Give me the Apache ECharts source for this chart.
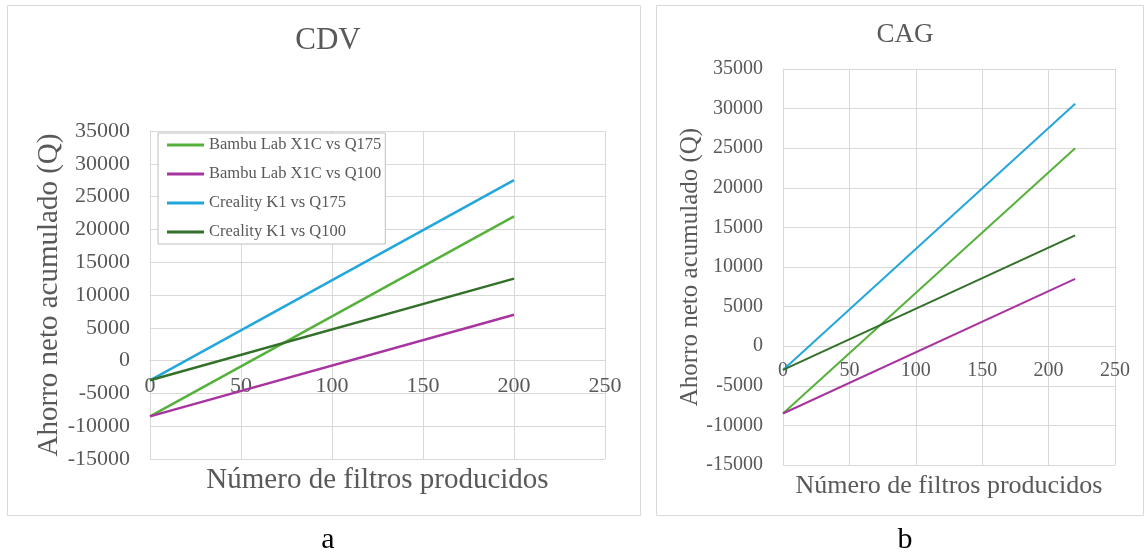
<!DOCTYPE html>
<html><head><meta charset="utf-8">
<script src="https://cdn.jsdelivr.net/npm/echarts@6/dist/echarts.min.js"></script>
<style>html,body{margin:0;padding:0;background:#fff}#c{width:1148px;height:556px}</style>
</head><body><div id="c"></div>
<script>
const seriesNames = ['Bambu Lab X1C vs Q175','Bambu Lab X1C vs Q100','Creality K1 vs Q175','Creality K1 vs Q100'];
const colors = ['#56B13C','#A8349F','#22A6DC','#33702A'];
// CDV (a): x = number of filters, y = accumulated net savings (Q)
const cdvX = [0, 200];
const cdvBambuQ175 = [-8500, 22000];
const cdvBambuQ100 = [-8500, 7000];
const cdvCrealityQ175 = [-3000, 27500];
const cdvCrealityQ100 = [-3000, 12500];
// CAG (b)
const cagX = [0, 220];
const cagBambuQ175 = [-8500, 25000];
const cagBambuQ100 = [-8500, 8500];
const cagCrealityQ175 = [-3000, 30600];
const cagCrealityQ100 = [-3000, 14000];
const xTicks = [0, 50, 100, 150, 200, 250];
const yTicks = [-15000, -10000, -5000, 0, 5000, 10000, 15000, 20000, 25000, 30000, 35000];

const F = 'Liberation Serif';
const TC = '#595959';
const GL = '#d9d9d9';
const pair = (xs, ys) => xs.map((x, i) => [x, ys[i]]);
const fmt = v => String(v);
const yMin = yTicks[0], yMax = yTicks[yTicks.length - 1];
const grids = [
  {left:150, top:131, width:455, height:328},
  {left:783, top:69, width:332, height:396}
];
// x axis crosses the y axis at 0 (offset from grid bottom)
const zeroOffset = g => -((0 - yMin) / (yMax - yMin)) * g.height;

function xAx(gi, fs, nfs, gap) {
  return { type:'value', gridIndex:gi, position:'bottom', offset:zeroOffset(grids[gi]),
    min:xTicks[0], max:xTicks[xTicks.length-1], interval:50,
    name:'Número de filtros producidos', nameLocation:'middle', nameGap:gap,
    nameTextStyle:{fontFamily:F, fontSize:nfs, color:TC},
    axisLine:{show:true, onZero:false, lineStyle:{color:GL, width:1}}, axisTick:{show:false},
    axisLabel:{fontFamily:F, fontSize:fs, color:TC, margin:15, formatter:fmt},
    splitLine:{show:true, lineStyle:{color:GL, width:1}} };
}
function yAx(gi, fs, nfs, gap) {
  return { type:'value', gridIndex:gi, min:yMin, max:yMax, interval:5000,
    name:'Ahorro neto acumulado (Q)', nameLocation:'middle', nameGap:gap,
    nameTextStyle:{fontFamily:F, fontSize:nfs, color:TC},
    axisLine:{show:true, onZero:false, lineStyle:{color:GL, width:1}}, axisTick:{show:false},
    axisLabel:{fontFamily:F, fontSize:fs, color:TC, margin:20, formatter:fmt},
    splitLine:{show:true, lineStyle:{color:GL, width:1}} };
}
function mk(name, data, gi, ci, w) {
  return { type:'line', name:name, xAxisIndex:gi, yAxisIndex:gi, data:data, symbol:'none',
    lineStyle:{color:colors[ci], width:w}, itemStyle:{color:colors[ci]}, animation:false };
}

const option = {
  animation:false,
  title:[
    {text:'CDV', left:323, top:20, textAlign:'center', textStyle:{fontFamily:F, fontSize:31, fontWeight:'normal', color:TC}},
    {text:'CAG', left:900, top:16, textAlign:'center', textStyle:{fontFamily:F, fontSize:27, fontWeight:'normal', color:TC}},
    {text:'a', left:323, top:520, textAlign:'center', textStyle:{fontFamily:F, fontSize:30, fontWeight:'normal', color:'#000'}},
    {text:'b', left:900, top:520, textAlign:'center', textStyle:{fontFamily:F, fontSize:30, fontWeight:'normal', color:'#000'}}
  ],
  graphic:[
    {type:'rect', shape:{x:7.5, y:5.5, width:633, height:510}, style:{fill:'none', stroke:'#d9d9d9', lineWidth:1}, silent:true},
    {type:'rect', shape:{x:656.5, y:5.5, width:487, height:510}, style:{fill:'none', stroke:'#d9d9d9', lineWidth:1}, silent:true}
  ],
  legend:{ data:seriesNames, orient:'vertical', left:158, top:133, icon:'rect', itemWidth:37, itemHeight:3, itemGap:11,
    padding:[3,4,3,9], borderColor:'#bfbfbf', borderWidth:1, backgroundColor:'#fff',
    textStyle:{fontFamily:F, fontSize:16.5, color:TC, lineHeight:18} },
  grid: grids.map(g => Object.assign({outerBoundsMode:'none', containLabel:false}, g)),
  xAxis:[ xAx(0, 22, 29, 105), xAx(1, 20, 26, 127) ],
  yAxis:[ yAx(0, 22, 29, 85), yAx(1, 20, 25, 80) ],
  series:[
    mk(seriesNames[0], pair(cdvX, cdvBambuQ175), 0, 0, 2.5),
    mk(seriesNames[1], pair(cdvX, cdvBambuQ100), 0, 1, 2.5),
    mk(seriesNames[2], pair(cdvX, cdvCrealityQ175), 0, 2, 2.5),
    mk(seriesNames[3], pair(cdvX, cdvCrealityQ100), 0, 3, 2.5),
    mk(seriesNames[0], pair(cagX, cagBambuQ175), 1, 0, 2),
    mk(seriesNames[1], pair(cagX, cagBambuQ100), 1, 1, 2),
    mk(seriesNames[2], pair(cagX, cagCrealityQ175), 1, 2, 2),
    mk(seriesNames[3], pair(cagX, cagCrealityQ100), 1, 3, 2)
  ]
};
const chart = echarts.init(document.getElementById('c'), null, {renderer:'canvas'});
chart.setOption(option);
</script></body></html>
